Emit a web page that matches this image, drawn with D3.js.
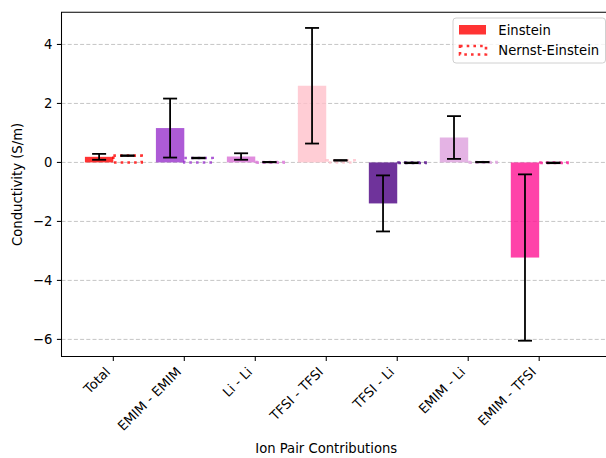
<!DOCTYPE html>
<html>
<head>
<meta charset="utf-8">
<script src="https://cdn.jsdelivr.net/npm/d3@7"></script>
<style>
  html, body { margin: 0; padding: 0; background: #fff; }
  svg { display: block; font-family: "DejaVu Sans", sans-serif; }
</style>
</head>
<body>
<svg id="chart" width="606" height="458"></svg>
<script>
// Ion pair conductivity contributions: Einstein vs Nernst-Einstein
const categories = ["Total", "EMIM - EMIM", "Li - Li", "TFSI - TFSI", "TFSI - Li", "EMIM - Li", "EMIM - TFSI"];
const einstein = [0.19, 1.165, 0.2, 2.6, -1.39, 0.845, -3.225];
const einsteinErr = [0.1, 1.0, 0.11, 1.96, 0.95, 0.725, 2.82];
const nernstEinstein = [0.23, 0.15, 0.01, 0.07, -0.015, 0.01, -0.015];
const nernstEinsteinErr = [0.01, 0.01, 0.005, 0.01, 0.01, 0.005, 0.01];
const barColors = ["red", "darkorchid", "orchid", "pink", "indigo", "plum", "deeppink"];
const yTicks = [-6, -4, -2, 0, 2, 4];
const legendLabels = ["Einstein", "Nernst-Einstein"];

const svg = d3.select("#chart");
const fontSize = 13.2;
const plot = { left: 61.5, top: 12.3, bottom: 356.5, right: 613 };

const x = d3.scaleLinear().domain([-0.73, 7.04]).range([plot.left, plot.right]);
const y = d3.scaleLinear().domain([-6.58, 5.09]).range([plot.bottom, plot.top]);
const barW = 0.4;

// grid
svg.append("g").selectAll("line").data(yTicks).join("line")
  .attr("x1", plot.left).attr("x2", plot.right)
  .attr("y1", d => y(d)).attr("y2", d => y(d))
  .attr("stroke", "#b8b8b8").attr("stroke-width", 1)
  .attr("stroke-dasharray", "4,2.2").attr("opacity", 0.8);

const idx = d3.range(categories.length);

// Einstein bars
svg.append("g").selectAll("rect").data(idx).join("rect")
  .attr("x", i => x(i - barW))
  .attr("width", i => x(i) - x(i - barW))
  .attr("y", i => y(Math.max(0, einstein[i])))
  .attr("height", i => Math.abs(y(einstein[i]) - y(0)))
  .attr("fill", i => barColors[i]).attr("fill-opacity", 0.8);

// Nernst-Einstein bars (dotted outline)
svg.append("g").selectAll("rect").data(idx).join("rect")
  .attr("x", i => x(i))
  .attr("width", i => x(i + barW) - x(i))
  .attr("y", i => y(Math.max(0, nernstEinstein[i])))
  .attr("height", i => Math.max(0.5, Math.abs(y(nernstEinstein[i]) - y(0))))
  .attr("fill", "none")
  .attr("stroke", i => barColors[i]).attr("stroke-opacity", 0.8)
  .attr("stroke-width", 2.6).attr("stroke-dasharray", "2.6,4.1");

// error bars
function errorBars(vals, errs, offset) {
  const g = svg.append("g").attr("stroke", "black").attr("stroke-width", 1.8);
  idx.forEach(i => {
    const cx = x(i + offset);
    const lo = y(vals[i] - errs[i]), hi = y(vals[i] + errs[i]);
    g.append("line").attr("x1", cx).attr("x2", cx).attr("y1", lo).attr("y2", hi);
    g.append("line").attr("x1", cx - 7).attr("x2", cx + 7).attr("y1", lo).attr("y2", lo);
    g.append("line").attr("x1", cx - 7).attr("x2", cx + 7).attr("y1", hi).attr("y2", hi);
  });
}
errorBars(einstein, einsteinErr, -barW / 2);
errorBars(nernstEinstein, nernstEinsteinErr, barW / 2);

// axes frame
svg.append("path")
  .attr("d", `M${plot.right},${plot.top}H${plot.left}V${plot.bottom}H${plot.right}`)
  .attr("fill", "none").attr("stroke", "black").attr("stroke-width", 1.05);

// y axis ticks and labels
const yAxis = svg.append("g");
yAxis.selectAll("line").data(yTicks).join("line")
  .attr("x1", plot.left - 4.6).attr("x2", plot.left)
  .attr("y1", d => y(d)).attr("y2", d => y(d))
  .attr("stroke", "black").attr("stroke-width", 1.05);
yAxis.selectAll("text").data(yTicks).join("text")
  .attr("x", plot.left - 9.2).attr("y", d => y(d)).attr("dy", "0.36em")
  .attr("text-anchor", "end").attr("font-size", fontSize)
  .text(d => d3.format("d")(d).replace("-", "\u2212"));

// x axis ticks and rotated labels
const xAxis = svg.append("g");
xAxis.selectAll("line").data(idx).join("line")
  .attr("x1", i => x(i)).attr("x2", i => x(i))
  .attr("y1", plot.bottom).attr("y2", plot.bottom + 4.6)
  .attr("stroke", "black").attr("stroke-width", 1.05);
xAxis.selectAll("text").data(idx).join("text")
  .attr("transform", i => `translate(${x(i) - 2.2},${plot.bottom + 16.3}) rotate(-45)`)
  .attr("text-anchor", "end").attr("font-size", fontSize)
  .text(i => categories[i]);

// axis titles
svg.append("text")
  .attr("transform", `translate(22,${(plot.top + plot.bottom) / 2}) rotate(-90)`)
  .attr("text-anchor", "middle").attr("font-size", fontSize)
  .text("Conductivity (S/m)");
svg.append("text")
  .attr("x", (x(0) + x(categories.length - 1)) / 2).attr("y", 452.5)
  .attr("text-anchor", "middle").attr("font-size", fontSize)
  .text("Ion Pair Contributions");

// legend
const lg = svg.append("g").attr("transform", "translate(453,18)");
lg.append("rect").attr("width", 152.5).attr("height", 45).attr("rx", 3)
  .attr("fill", "white").attr("fill-opacity", 0.8)
  .attr("stroke", "#d0d0d0").attr("stroke-width", 1);
lg.append("rect").attr("x", 6).attr("y", 7).attr("width", 27).attr("height", 9.5)
  .attr("fill", "red").attr("fill-opacity", 0.8);
lg.append("rect").attr("x", 7).attr("y", 28).attr("width", 26).attr("height", 8.5)
  .attr("fill", "none").attr("stroke", "red").attr("stroke-opacity", 0.8)
  .attr("stroke-width", 2.6).attr("stroke-dasharray", "2.6,4.1");
lg.selectAll("text.lbl").data(legendLabels).join("text").attr("class", "lbl")
  .attr("x", 45.3).attr("y", (d, i) => 16.8 + i * 20.5)
  .attr("font-size", fontSize).text(d => d);
</script>
</body>
</html>
